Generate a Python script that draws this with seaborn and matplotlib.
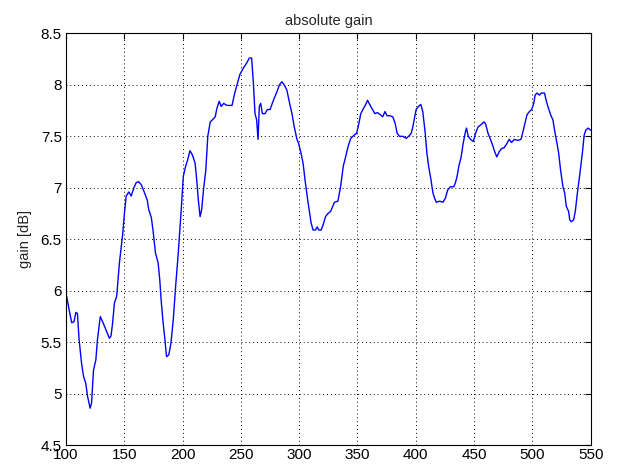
import numpy as np
import matplotlib
matplotlib.use("Agg")
import matplotlib.pyplot as plt
import seaborn as sns

# values
freq = [100.5, 102.6, 104.9, 106.9, 108.4, 109.8, 111.2, 113.3, 115.0, 117.0,
        118.4, 120.7, 121.9, 123.6, 125.6, 127.0, 129.4, 131.4, 134.3, 137.2,
        138.6, 140.0, 141.5, 143.5, 145.8, 148.7, 150.1, 151.6, 153.9, 155.9,
        158.2, 160.2, 162.2, 164.6, 167.4, 169.7, 170.9, 173.2, 174.6, 176.7,
        179.0, 180.4, 181.8, 183.3, 184.8, 186.2, 188.2, 190.0, 192.0, 194.0,
        196.3, 198.6, 200.6, 202.6, 204.3, 206.3, 208.4, 210.7, 212.1, 213.5,
        215.0, 216.4, 217.9, 219.9, 221.6, 223.7, 225.6, 228.0, 229.4, 231.4,
        233.1, 235.2, 238.0, 242.4, 244.7, 246.7, 249.1, 252.0, 254.9, 257.2,
        259.2, 260.7, 262.1, 263.5, 264.7, 265.8, 267.0, 268.4, 270.7, 272.7,
        275.0, 277.9, 280.8, 283.1, 285.1, 287.1, 289.4, 291.8, 293.8, 295.8,
        298.1, 299.5, 301.5, 303.3, 305.3, 307.3, 309.0, 310.2, 311.9, 313.9,
        315.4, 316.8, 318.8, 320.5, 322.6, 324.6, 326.9, 329.2, 330.3, 333.2,
        335.5, 337.8, 339.8, 341.9, 344.2, 347.0, 349.3, 351.3, 352.8, 355.1,
        357.1, 358.6, 360.9, 362.9, 364.9, 367.2, 369.5, 371.6, 373.6, 375.3,
        377.4, 380.2, 382.2, 384.0, 386.0, 388.9, 391.8, 394.7, 396.1, 397.4,
        398.6, 400.3, 402.3, 404.3, 406.0, 408.1, 409.5, 411.0, 413.0, 414.7,
        416.1, 417.6, 420.5, 423.3, 425.4, 427.4, 429.7, 432.6, 434.0, 435.4,
        436.9, 438.9, 440.6, 442.7, 443.5, 445.0, 447.0, 449.3, 451.3, 453.3,
        455.6, 458.5, 459.9, 461.9, 463.7, 465.7, 467.7, 469.5, 471.5, 473.5,
        475.8, 478.1, 480.1, 482.1, 484.4, 487.3, 490.2, 491.6, 493.7, 495.4,
        497.4, 499.4, 501.2, 502.3, 504.0, 506.1, 507.5, 510.4, 511.8, 513.3,
        515.6, 517.6, 519.0, 520.5, 522.5, 524.2, 526.2, 527.7, 529.1, 531.1,
        532.0, 533.4, 535.4, 536.9, 538.6, 540.1, 541.5, 542.9, 544.4, 545.8,
        547.8, 549.9]
gain = [5.95, 5.82, 5.69, 5.70, 5.79, 5.78, 5.53, 5.30, 5.17, 5.10,
        4.98, 4.86, 4.91, 5.23, 5.33, 5.53, 5.75, 5.70, 5.62, 5.54,
        5.56, 5.69, 5.88, 5.95, 6.27, 6.56, 6.75, 6.92, 6.96, 6.92,
        7.00, 7.05, 7.06, 7.03, 6.95, 6.88, 6.79, 6.71, 6.59, 6.37,
        6.27, 6.11, 5.88, 5.69, 5.53, 5.36, 5.38, 5.49, 5.72, 6.04,
        6.37, 6.75, 7.11, 7.21, 7.27, 7.36, 7.32, 7.24, 7.08, 6.88,
        6.72, 6.79, 6.98, 7.17, 7.50, 7.64, 7.66, 7.69, 7.77, 7.84,
        7.79, 7.82, 7.80, 7.80, 7.92, 8.00, 8.10, 8.16, 8.21, 8.26,
        8.26, 8.02, 7.72, 7.66, 7.47, 7.79, 7.82, 7.72, 7.72, 7.76,
        7.76, 7.85, 7.93, 8.00, 8.03, 8.00, 7.95, 7.82, 7.72, 7.59,
        7.47, 7.43, 7.34, 7.24, 7.05, 6.88, 6.75, 6.66, 6.59, 6.59,
        6.62, 6.59, 6.59, 6.64, 6.72, 6.75, 6.77, 6.83, 6.86, 6.87,
        7.01, 7.21, 7.30, 7.40, 7.48, 7.51, 7.53, 7.63, 7.72, 7.77,
        7.81, 7.85, 7.80, 7.76, 7.72, 7.73, 7.71, 7.69, 7.74, 7.70,
        7.70, 7.69, 7.63, 7.53, 7.50, 7.50, 7.48, 7.51, 7.53, 7.59,
        7.66, 7.76, 7.79, 7.81, 7.74, 7.53, 7.34, 7.21, 7.08, 6.95,
        6.90, 6.86, 6.87, 6.86, 6.90, 6.98, 7.01, 7.01, 7.05, 7.11,
        7.21, 7.30, 7.43, 7.55, 7.58, 7.50, 7.47, 7.45, 7.53, 7.59,
        7.61, 7.64, 7.62, 7.53, 7.48, 7.42, 7.35, 7.30, 7.35, 7.38,
        7.39, 7.43, 7.47, 7.44, 7.47, 7.46, 7.47, 7.53, 7.63, 7.71,
        7.74, 7.76, 7.82, 7.90, 7.92, 7.90, 7.92, 7.92, 7.85, 7.79,
        7.71, 7.66, 7.56, 7.47, 7.34, 7.17, 7.01, 6.95, 6.82, 6.77,
        6.69, 6.67, 6.69, 6.78, 6.95, 7.08, 7.21, 7.34, 7.51, 7.56,
        7.58, 7.56]

x_ticks = [100, 150, 200, 250, 300, 350, 400, 450, 500, 550]
y_ticks = [4.5, 5, 5.5, 6, 6.5, 7, 7.5, 8, 8.5]
y_tick_labels = ["4.5", "5", "5.5", "6", "6.5", "7", "7.5", "8", "8.5"]

sns.set_style("white")
plt.rcParams['font.family'] = ['Liberation Sans', 'DejaVu Sans']

fig = plt.figure(figsize=(6.18, 4.72), dpi=100)
ax = fig.add_axes([0.1068, 0.0566, 0.849, 0.8728])

sns.lineplot(x=freq, y=gain, color="#0000ff", linewidth=1.0, ax=ax)

ax.set_xlim(100, 550)
ax.set_ylim(4.5, 8.5)
ax.set_xticks(x_ticks)
ax.set_yticks(y_ticks)
ax.set_yticklabels(y_tick_labels)

ax.grid(True, color="black", linestyle=(0, (1, 3)), linewidth=0.7)
ax.tick_params(direction="in", top=True, right=True, length=4, width=0.8,
               labelsize=11, colors="black", pad=3)
ax.tick_params(axis="x", pad=2)
for sp in ax.spines.values():
    sp.set_color("black")
    sp.set_linewidth(0.8)

ax.set_title("absolute gain", fontsize=10.5, pad=6)
ax.set_ylabel("gain [dB]", fontsize=10.5, labelpad=6)

fig.savefig("out.png", dpi=100)
plt.close(fig)
